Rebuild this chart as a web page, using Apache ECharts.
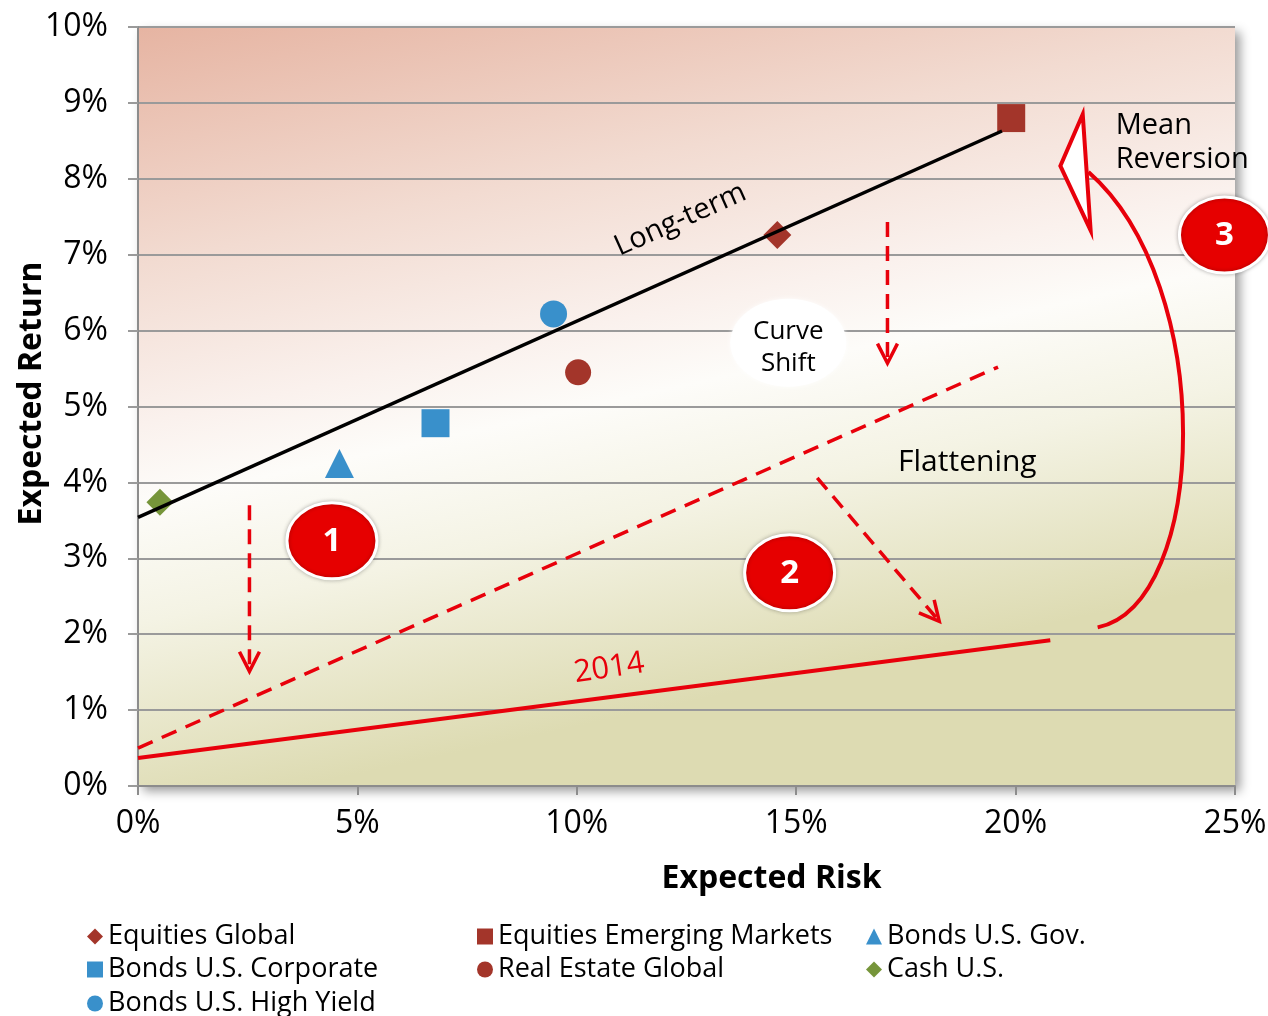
<!DOCTYPE html>
<html>
<head>
<meta charset="utf-8">
<script src="https://cdn.jsdelivr.net/npm/echarts@6/dist/echarts.min.js"></script>
<style>
  html, body { margin: 0; padding: 0; background: #ffffff; }
  #chart { width: 1268px; height: 1016px; }
</style>
</head>
<body>
<div id="chart"></div>
<script>
const FONT = '"Open Sans", "Noto Sans", sans-serif';

// Expected risk (x, %) and expected return (y, %) per asset class
const equitiesGlobal   = [[14.57, 7.26]];
const equitiesEmerging = [[19.90, 8.80]];
const bondsGov         = [[4.59, 4.25]];
const bondsCorporate   = [[6.78, 4.78]];
const realEstateGlobal = [[10.03, 5.45]];
const cashUS           = [[0.50, 3.74]];
const bondsHighYield   = [[9.47, 6.22]];

// Risk/return curves (end points, %)
const longTermCurve = [[0, 3.54], [19.69, 8.63]];
const shiftedCurve  = [[0, 0.50], [19.60, 5.52]];
const curve2014     = [[0, 0.37], [20.79, 1.92]];

// Axis ranges (%)
const xRange = { min: 0, max: 25, step: 5 };
const yRange = { min: 0, max: 10, step: 1 };

// Annotation anchors, in axis units (%)
const shiftArrows = [
  { from: [2.54, 3.70], to: [2.54, 1.51] },
  { from: [17.08, 7.43], to: [17.08, 5.57] },
  { from: [15.48, 4.06], to: [18.26, 2.17] }
];
const badges = [
  { label: '1', at: [4.42, 3.23] },
  { label: '2', at: [14.85, 2.81] },
  { label: '3', at: [24.76, 7.26] }
];
const reversionCurve = { start: [21.87, 2.09], c1: [24.40, 2.40], c2: [24.60, 6.60], end: [21.66, 8.09] };
const reversionHead = [[21.53, 8.85], [21.02, 8.17], [21.71, 7.32]];
const curveShiftAt = [14.82, 5.84];
const flatteningAt = [18.90, 4.26];
const meanReversionAt = [22.28, 8.47];
const longTermLabelAt = [12.36, 7.46];
const label2014At = [10.74, 1.55];

const RED = '#e8000b';
const MAROON = '#a3352a';
const BLUE = '#3990cb';
const GREEN = '#76953a';
const GRID_GREY = '#9a9a9a';

const chart = echarts.init(document.getElementById('chart'), null, { renderer: 'canvas' });

function scatter(name, data, symbol, size, color) {
  return {
    name, type: 'scatter', data, symbol, symbolSize: size,
    itemStyle: { color, opacity: 1 }, z: 3, silent: true
  };
}
function curve(data, color, width, type) {
  return {
    type: 'line', data, showSymbol: false, silent: true, z: 4,
    lineStyle: { color, width, type }
  };
}

// legend laid out as a 3-column table: one component per column block
const LEGEND_TOP = 923;
const LEGEND_ROW = 33.5;
const legendText = { fontSize: 27, color: '#000', fontFamily: FONT };
function legendBlock(left, row, names) {
  return {
    data: names, left, top: LEGEND_TOP + row * LEGEND_ROW, orient: 'vertical',
    itemGap: 6, padding: 0, itemWidth: 16, itemHeight: 16,
    textStyle: legendText, selectedMode: false
  };
}

const option = {
  animation: false,
  textStyle: { fontFamily: FONT },
  grid: {
    left: 138, top: 27, width: 1097, height: 759,
    show: true, borderWidth: 0, outerBoundsMode: 'none',
    backgroundColor: {
      type: 'linear', x: 0, y: 0, x2: 0.15, y2: 1,
      colorStops: [
        { offset: 0, color: '#e6b4a2' },
        { offset: 0.3, color: '#f2dbd1' },
        { offset: 0.5, color: '#faf1ed' },
        { offset: 0.6, color: '#fdfcf9' },
        { offset: 0.75, color: '#f4f3e4' },
        { offset: 1, color: '#dddbb2' }
      ]
    },
    shadowBlur: 10, shadowOffsetX: 5, shadowOffsetY: 5, shadowColor: 'rgba(0,0,0,0.4)'
  },
  xAxis: {
    type: 'value', min: xRange.min, max: xRange.max, interval: xRange.step,
    name: 'Expected Risk', nameLocation: 'middle', nameGap: 77, nameMoveOverlap: false,
    nameTextStyle: { fontSize: 32, fontWeight: 'bold', color: '#000', fontFamily: FONT,
                     padding: [0, 0, 0, 170] },
    axisLine: { show: true, lineStyle: { color: '#8c8c8c', width: 2 } },
    axisTick: { show: true, length: 9, lineStyle: { color: '#8c8c8c', width: 2 } },
    axisLabel: { formatter: '{value}%', fontSize: 32, color: '#000', margin: 22, fontFamily: FONT },
    splitLine: { show: false }
  },
  yAxis: {
    type: 'value', min: yRange.min, max: yRange.max, interval: yRange.step,
    name: 'Expected Return', nameLocation: 'middle', nameGap: 90, nameRotate: 90,
    nameMoveOverlap: false,
    nameTextStyle: { fontSize: 32, fontWeight: 'bold', color: '#000', fontFamily: FONT,
                     padding: [0, 0, 0, 26] },
    axisLine: { show: true, lineStyle: { color: '#8c8c8c', width: 2 } },
    axisTick: { show: true, length: 10, lineStyle: { color: GRID_GREY, width: 2 } },
    axisLabel: { formatter: '{value}%', fontSize: 32, color: '#000', margin: 30, fontFamily: FONT },
    splitLine: { show: true, lineStyle: { color: GRID_GREY, width: 2 } }
  },
  legend: [
    legendBlock(87, 0, ['Equities Global', 'Bonds U.S. Corporate']),
    legendBlock(87, 2, ['Bonds U.S. High Yield']),
    legendBlock(477, 0, ['Equities Emerging Markets', 'Real Estate Global']),
    legendBlock(866, 0, ['Bonds U.S. Gov.', 'Cash U.S.'])
  ],
  series: [
    scatter('Equities Global', equitiesGlobal, 'diamond', 28, MAROON),
    scatter('Equities Emerging Markets', equitiesEmerging, 'rect', 28, MAROON),
    scatter('Bonds U.S. Gov.', bondsGov, 'triangle', 29, BLUE),
    scatter('Bonds U.S. Corporate', bondsCorporate, 'rect', 28, BLUE),
    scatter('Real Estate Global', realEstateGlobal, 'circle', 26, MAROON),
    scatter('Cash U.S.', cashUS, 'diamond', 27, GREEN),
    scatter('Bonds U.S. High Yield', bondsHighYield, 'circle', 27, BLUE),
    curve(longTermCurve, '#000', 3.5, 'solid'),
    curve(shiftedCurve, RED, 3.5, [16, 10]),
    curve(curve2014, RED, 4, 'solid')
  ]
};
chart.setOption(option);

// ---- annotations, placed from axis units ----
const px = p => chart.convertToPixel({ gridIndex: 0 }, p);
const lineAngle = pts => {
  const a = px(pts[0]), b = px(pts[1]);
  return Math.atan2(a[1] - b[1], b[0] - a[0]);
};
const elements = [];

// dashed arrows with open chevron heads
shiftArrows.forEach(arrow => {
  const a = px(arrow.from), b = px(arrow.to);
  const dx = b[0] - a[0], dy = b[1] - a[1];
  const len = Math.hypot(dx, dy);
  const ux = dx / len, uy = dy / len;
  const armLen = 22, th = 27 * Math.PI / 180;
  const arm = sgn => {
    const c = Math.cos(th), s = Math.sin(sgn * th);
    const rx = ux * c - uy * s, ry = ux * s + uy * c;
    return [b[0] - rx * armLen, b[1] - ry * armLen];
  };
  elements.push({
    type: 'line', silent: true, z: 10,
    shape: { x1: a[0], y1: a[1], x2: b[0] - ux * 2, y2: b[1] - uy * 2 },
    style: { stroke: RED, lineWidth: 3.5, lineDash: [15, 9] }
  });
  elements.push({
    type: 'polyline', silent: true, z: 10,
    shape: { points: [arm(1), b, arm(-1)] },
    style: { stroke: RED, lineWidth: 3.5, fill: null, lineJoin: 'miter' }
  });
});

// curved "mean reversion" arrow
{
  const s = px(reversionCurve.start), c1 = px(reversionCurve.c1),
        c2 = px(reversionCurve.c2), e = px(reversionCurve.end);
  elements.push({
    type: 'bezierCurve', silent: true, z: 10,
    shape: { x1: s[0], y1: s[1], cpx1: c1[0], cpy1: c1[1], cpx2: c2[0], cpy2: c2[1], x2: e[0], y2: e[1] },
    style: { stroke: RED, lineWidth: 4, fill: null }
  });
  elements.push({
    type: 'polygon', silent: true, z: 11,
    shape: { points: reversionHead.map(px) },
    style: { fill: '#ffffff', stroke: RED, lineWidth: 4, lineJoin: 'miter' }
  });
}

// "Curve Shift" callout
{
  const c = px(curveShiftAt);
  elements.push({
    type: 'ellipse', silent: true, z: 9,
    shape: { cx: c[0], cy: c[1], rx: 58, ry: 44 },
    style: { fill: '#ffffff', shadowBlur: 4, shadowColor: 'rgba(255,255,255,0.9)' }
  });
  elements.push({
    type: 'text', silent: true, z: 12, x: c[0], y: c[1] + 5,
    style: { text: 'Curve\nShift', fontSize: 26, fontFamily: FONT, fill: '#000',
             align: 'center', verticalAlign: 'middle', lineHeight: 32 }
  });
}

// numbered badges
badges.forEach(b => {
  const c = px(b.at);
  elements.push({
    type: 'ellipse', silent: true, z: 13,
    shape: { cx: c[0], cy: c[1], rx: 45, ry: 38 },
    style: { fill: '#e60000', stroke: '#ffffff', lineWidth: 3,
             shadowBlur: 4, shadowColor: 'rgba(0,0,0,0.25)' }
  });
  elements.push({
    type: 'text', silent: true, z: 14, x: c[0], y: c[1] + 1,
    style: { text: b.label, fontSize: 33, fontWeight: 'bold', fontFamily: FONT, fill: '#ffffff',
             align: 'center', verticalAlign: 'middle' }
  });
});

// free text labels
{
  const f = px(flatteningAt);
  elements.push({
    type: 'text', silent: true, z: 12, x: f[0], y: f[1],
    style: { text: 'Flattening', fontSize: 30, fontFamily: FONT, fill: '#000',
             align: 'center', verticalAlign: 'middle' }
  });
  const m = px(meanReversionAt);
  elements.push({
    type: 'text', silent: true, z: 12, x: m[0], y: m[1],
    style: { text: 'Mean\nReversion', fontSize: 29, fontFamily: FONT, fill: '#000',
             align: 'left', verticalAlign: 'middle', lineHeight: 34 }
  });
  const l = px(longTermLabelAt);
  elements.push({
    type: 'text', silent: true, z: 12, x: l[0], y: l[1], rotation: lineAngle(longTermCurve),
    style: { text: 'Long-term', fontSize: 29, fontFamily: FONT, fill: '#000',
             align: 'center', verticalAlign: 'middle' }
  });
  const t = px(label2014At);
  elements.push({
    type: 'text', silent: true, z: 12, x: t[0], y: t[1], rotation: lineAngle(curve2014) + 0.02,
    style: { text: '2014', fontSize: 31, fontFamily: FONT, fill: RED,
             align: 'center', verticalAlign: 'middle' }
  });
}

chart.setOption({ graphic: { elements } });
</script>
</body>
</html>
